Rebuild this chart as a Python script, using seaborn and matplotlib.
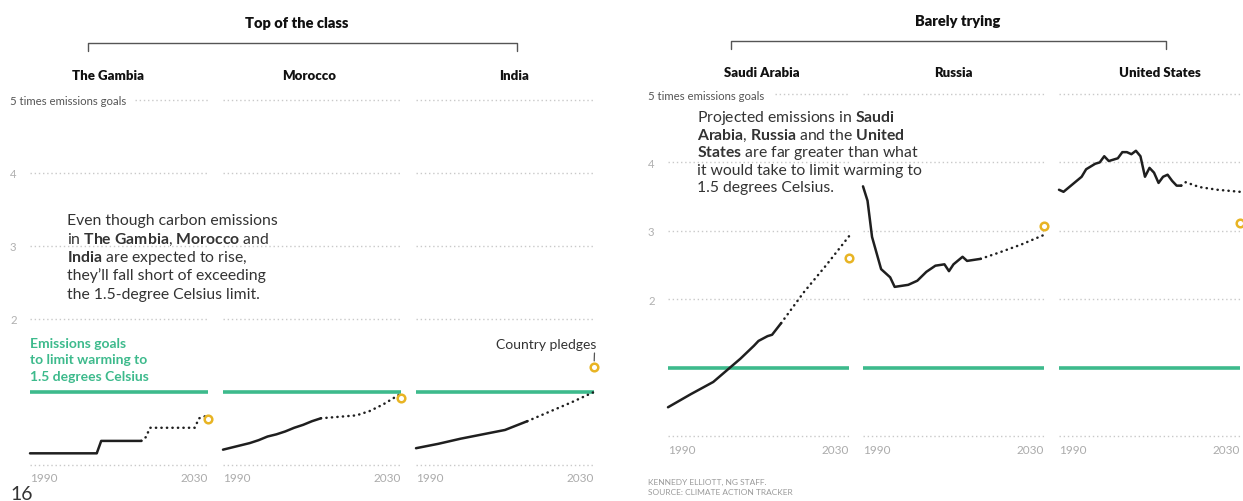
import matplotlib
matplotlib.use("Agg")
import matplotlib.pyplot as plt
from matplotlib.lines import Line2D
import seaborn as sns

# ---------------- data: emissions as multiples of the 1.5 °C goal ----------------
gambia_hist_years = [1990, 2005, 2006, 2015]
gambia_hist = [0.16, 0.16, 0.33, 0.33]
gambia_proj_years = [2015, 2016, 2017, 2027, 2028, 2029.5]
gambia_proj = [0.33, 0.38, 0.51, 0.51, 0.64, 0.67]
gambia_pledge = 0.63

morocco_hist_years = [1990, 1992, 1994, 1996, 1998, 2000, 2002, 2004, 2006, 2008, 2010, 2012]
morocco_hist = [0.21, 0.24, 0.27, 0.30, 0.34, 0.39, 0.42, 0.46, 0.51, 0.55, 0.60, 0.64]
morocco_proj_years = [2012, 2016, 2020, 2023, 2026, 2029.5]
morocco_proj = [0.64, 0.66, 0.68, 0.74, 0.83, 0.96]
morocco_pledge = 0.92

india_hist_years = [1990, 1995, 2000, 2005, 2010, 2015]
india_hist = [0.23, 0.29, 0.36, 0.42, 0.48, 0.60]
india_proj_years = [2015, 2020, 2025, 2030]
india_proj = [0.60, 0.73, 0.86, 1.00]
india_pledge = 1.34

saudi_hist_years = [1990, 1995, 2000, 2003, 2006, 2009, 2010, 2012, 2013, 2015]
saudi_hist = [0.42, 0.61, 0.79, 0.96, 1.13, 1.32, 1.39, 1.46, 1.48, 1.65]
saudi_proj_years = [2015, 2020, 2025, 2030]
saudi_proj = [1.65, 2.10, 2.50, 2.92]
saudi_pledge = 2.60

russia_hist_years = [1990, 1991, 1992, 1994, 1996, 1997, 1998, 2000, 2002, 2004,
                     2006, 2008, 2009, 2010, 2012, 2013, 2016]
russia_hist = [3.65, 3.44, 2.91, 2.44, 2.32, 2.18, 2.19, 2.21, 2.27, 2.40,
               2.49, 2.51, 2.41, 2.51, 2.62, 2.56, 2.59]
russia_proj_years = [2016, 2020, 2025, 2030]
russia_proj = [2.59, 2.68, 2.80, 2.94]
russia_pledge = 3.07

us_hist_years = [1990, 1991, 1993, 1995, 1996, 1998, 1999, 2000, 2001, 2003, 2004, 2005,
                 2006, 2007, 2008, 2009, 2010, 2011, 2012, 2013, 2014, 2015, 2016, 2017]
us_hist = [3.60, 3.57, 3.68, 3.79, 3.90, 3.98, 4.00, 4.09, 4.02, 4.06, 4.15, 4.15,
           4.12, 4.17, 4.09, 3.79, 3.92, 3.85, 3.70, 3.79, 3.82, 3.73, 3.66, 3.66]
us_proj_years = [2017, 2018, 2021, 2025, 2030]
us_proj = [3.66, 3.71, 3.64, 3.60, 3.57]
us_pledge = 3.11

left_countries = ["The Gambia", "Morocco", "India"]
right_countries = ["Saudi Arabia", "Russia", "United States"]
y_tick_values = [2, 3, 4, 5]
y_tick_labels = ["2", "3", "4", "5 times emissions goals"]
x_tick_values = [1990, 2030]
x_tick_labels = ["1990", "2030"]

series = {
    "The Gambia": (gambia_hist_years, gambia_hist, gambia_proj_years, gambia_proj, gambia_pledge),
    "Morocco": (morocco_hist_years, morocco_hist, morocco_proj_years, morocco_proj, morocco_pledge),
    "India": (india_hist_years, india_hist, india_proj_years, india_proj, india_pledge),
    "Saudi Arabia": (saudi_hist_years, saudi_hist, saudi_proj_years, saudi_proj, saudi_pledge),
    "Russia": (russia_hist_years, russia_hist, russia_proj_years, russia_proj, russia_pledge),
    "United States": (us_hist_years, us_hist, us_proj_years, us_proj, us_pledge),
}

# ---------------- style ----------------
sns.set_theme(style="white")
plt.rcParams["font.family"] = ["Lato", "DejaVu Sans"]
plt.rcParams["mathtext.fontset"] = "custom"
plt.rcParams["mathtext.rm"] = "Lato"
plt.rcParams["mathtext.bf"] = "Lato:bold"
plt.rcParams["mathtext.it"] = "Lato:italic"

GREEN = "#3dba8c"
YELLOW = "#e8b424"
INK = "#1f1f1f"
GRID = "#c9c9c9"
TEXT = "#333333"

W, H = 1243, 502
fig = plt.figure(figsize=(W / 100, H / 100), dpi=100)
fig.patch.set_facecolor("white")


def fx(x):
    return x / W


def fy(y):
    return 1 - y / H


def panel(x0, width, y_bottom, y_top):
    ax = fig.add_axes([fx(x0), fy(y_bottom), width / W, (y_bottom - y_top) / H])
    ax.set_xlim(1990, 2030)
    ax.set_ylim(0, 5)
    ax.patch.set_alpha(0)
    for s in ax.spines.values():
        s.set_visible(False)
    return ax


def draw_country(ax, name, first, x_pad, y_pad):
    hy, hv, py, pv, pledge = series[name]
    for v in [0, 2, 3, 4, 5]:
        xmin = 0.59 if (first and v == 5) else 0.0
        ax.axhline(v, xmin=xmin, color=GRID, lw=1.0, ls=(0, (1, 2)), zorder=0,
                   clip_on=False)
    ax.axhline(1, color=GREEN, lw=2.6, solid_capstyle="butt", zorder=2)
    sns.lineplot(x=py, y=pv, ax=ax, color=INK, lw=1.8, ls=(0, (0.1, 2.1)),
                 dash_capstyle="round", estimator=None, sort=False, clip_on=False, zorder=3)
    sns.lineplot(x=hy, y=hv, ax=ax, color=INK, lw=1.8, estimator=None, sort=False,
                 clip_on=False, zorder=4)
    sns.scatterplot(x=[2030], y=[pledge], ax=ax, s=30, color="white", edgecolor=YELLOW,
                    linewidth=1.8, clip_on=False, zorder=6)
    ax.set_xlabel("")
    ax.set_ylabel("")
    ax.set_xticks(x_tick_values)
    ax.set_xticklabels(x_tick_labels)
    for lbl, ha in zip(ax.get_xticklabels(), ["left", "right"]):
        lbl.set_ha(ha)
    ax.tick_params(axis="x", length=0, pad=x_pad, labelsize=8.5, labelcolor="#ababab")
    if first:
        ax.set_yticks(y_tick_values)
        ax.set_yticklabels(y_tick_labels)
        ax.tick_params(axis="y", length=0, pad=y_pad, labelsize=8.2, labelcolor="#b0b0b0")
        for lbl in ax.get_yticklabels():
            lbl.set_ha("left")
        ax.get_yticklabels()[-1].set_color("#555555")
    else:
        ax.set_yticks([])


# ---------------- left group ----------------
left_axes = []
for i, (name, x0) in enumerate(zip(left_countries, [30, 223, 416])):
    ax = panel(x0, 178, 466, 101)
    draw_country(ax, name, i == 0, 5.0, 14.4)
    left_axes.append(ax)

# ---------------- right group ----------------
right_axes = []
for i, (name, x0) in enumerate(zip(right_countries, [668, 863, 1059])):
    ax = panel(x0, 181, 437, 95)
    draw_country(ax, name, i == 0, 5.6, 14.4)
    right_axes.append(ax)

# country pledge callout on India
left_axes[2].annotate("Country pledges", xy=(2030, india_pledge), xytext=(1.5, 14),
                      textcoords="offset points", ha="right", va="baseline",
                      fontsize=10, color=TEXT,
                      arrowprops=dict(arrowstyle="-", color="#555555", lw=0.9,
                                      relpos=(0.985, 0.0), shrinkA=0, shrinkB=4.5),
                      annotation_clip=False)

# ---------------- headings and brackets ----------------
fig.text(fx(297), fy(23), "Top of the class", ha="center", va="center",
         fontsize=10.5, fontweight="heavy", color="#111111")
fig.text(fx(958), fy(21), "Barely trying", ha="center", va="center",
         fontsize=10.5, fontweight="heavy", color="#111111")
for (xa, xb, yb) in [(88, 517, 44), (731, 1166, 42)]:
    fig.add_artist(Line2D([fx(xa), fx(xa), fx(xb), fx(xb)],
                          [fy(yb + 8), fy(yb), fy(yb), fy(yb + 8)],
                          transform=fig.transFigure, color="#555555", lw=1.0))

for name, xc in zip(left_countries, [108, 309, 514]):
    fig.text(fx(xc), fy(76), name, ha="center", va="center",
             fontsize=9.5, fontweight="heavy", color="#111111")
for name, xc in zip(right_countries, [762, 953, 1160]):
    fig.text(fx(xc), fy(73), name, ha="center", va="center",
             fontsize=9.5, fontweight="heavy", color="#111111")

# ---------------- notes ----------------
left_note = [
    "Even though carbon emissions",
    r"in $\mathbf{The\ Gambia}$, $\mathbf{Morocco}$ and",
    r"$\mathbf{India}$ are expected to rise,",
    "they\u2019ll fall short of exceeding",
    "the 1.5-degree Celsius limit.",
]
for k, line in enumerate(left_note):
    fig.text(fx(67), fy(225 + 18.4 * k), line, ha="left", va="baseline",
             fontsize=11.3, color=TEXT)

right_note = [
    r"Projected emissions in $\mathbf{Saudi}$",
    r"$\mathbf{Arabia}$, $\mathbf{Russia}$ and the $\mathbf{United}$",
    r"$\mathbf{States}$ are far greater than what",
    "it would take to limit warming to",
    "1.5 degrees Celsius.",
]
for k, line in enumerate(right_note):
    fig.text(fx(697), fy(122 + 17.5 * k), line, ha="left", va="baseline",
             fontsize=11.3, color=TEXT)

green_note = ["Emissions goals", "to limit warming to", "1.5 degrees Celsius"]
for k, line in enumerate(green_note):
    fig.text(fx(30), fy(348 + 16.5 * k), line, ha="left", va="baseline",
             fontsize=10, fontweight="bold", color=GREEN)

# ---------------- credits ----------------
fig.text(fx(648), fy(485), "KENNEDY ELLIOTT, NG STAFF.", ha="left", va="baseline",
         fontsize=6, color="#9a9a9a")
fig.text(fx(648), fy(495), "SOURCE: CLIMATE ACTION TRACKER", ha="left", va="baseline",
         fontsize=6, color="#9a9a9a")
fig.text(fx(10), fy(500), "16", ha="left", va="baseline", fontsize=14, color="#333333")

fig.savefig("out.png", dpi=100, facecolor="white")
